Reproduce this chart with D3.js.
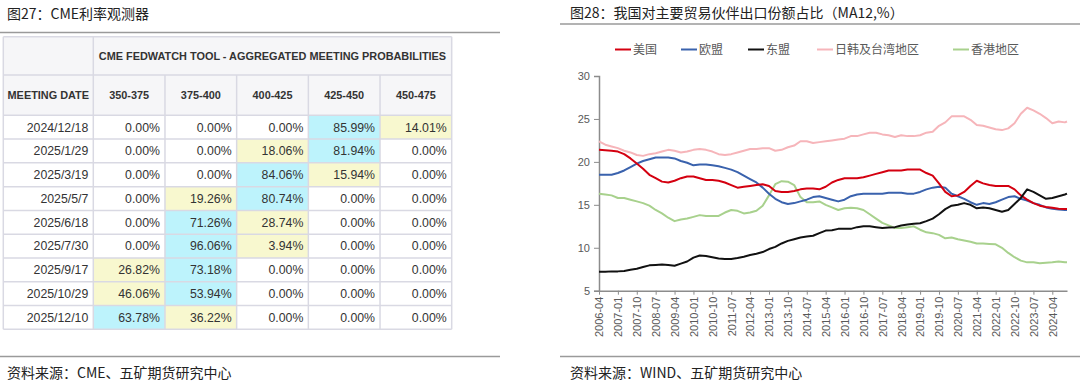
<!DOCTYPE html>
<html><head><meta charset="utf-8">
<script src="https://cdn.jsdelivr.net/npm/d3@7/dist/d3.min.js"></script>
<style>
html,body{margin:0;padding:0;background:#fff;}
svg{display:block;}
</style></head>
<body>
<svg id="c" width="1080" height="383"></svg>
<script>
// ---------- Table data (Fig 27) ----------
const meetingDates = ["2024/12/18","2025/1/29","2025/3/19","2025/5/7","2025/6/18","2025/7/30","2025/9/17","2025/10/29","2025/12/10"];
const rateBuckets = ["350-375","375-400","400-425","425-450","450-475"];
const probabilities = [
  [0,0,0,85.99,14.01],
  [0,0,18.06,81.94,0],
  [0,0,84.06,15.94,0],
  [0,19.26,80.74,0,0],
  [0,71.26,28.74,0,0],
  [0,96.06,3.94,0,0],
  [26.82,73.18,0,0,0],
  [46.06,53.94,0,0,0],
  [63.78,36.22,0,0,0]
];

// ---------- Line chart data (Fig 28) ----------
const dates = ["2006-04","2006-07","2006-10","2007-01","2007-04","2007-07","2007-10","2008-01","2008-04","2008-07","2008-10","2009-01","2009-04","2009-07","2009-10","2010-01","2010-04","2010-07","2010-10","2011-01","2011-04","2011-07","2011-10","2012-01","2012-04",
"2012-07","2012-10","2013-01","2013-04","2013-07","2013-10","2014-01","2014-04","2014-07","2014-10","2015-01","2015-04","2015-07","2015-10","2016-01","2016-04","2016-07","2016-10","2017-01","2017-04","2017-07","2017-10","2018-01","2018-04","2018-07","2018-10",
"2019-01","2019-04","2019-07","2019-10","2020-01","2020-04","2020-07","2020-10","2021-01","2021-04","2021-07","2021-10","2022-01","2022-04","2022-07","2022-10","2023-01","2023-04","2023-07","2023-10","2024-01","2024-04","2024-07","2024-10","2024-11"];
const usa = [21.4,21.35,21.3,21.2,20.9,20.4,19.8,19.2,18.5,18.1,17.7,17.6,17.8,18.1,18.3,18.3,18.1,17.9,17.9,17.8,17.6,17.3,17.0,17.1,17.2,
17.3,17.4,17.2,16.6,16.5,16.5,16.6,16.8,16.9,16.9,16.8,17.1,17.6,17.9,18.1,18.1,18.1,18.2,18.4,18.6,18.8,19.0,19.0,19.0,19.1,19.1,
19.1,18.7,18.4,17.5,16.5,16.0,16.1,16.5,17.2,17.8,17.5,17.3,17.2,17.2,17.2,16.8,16.1,15.6,15.2,14.9,14.75,14.65,14.55,14.5,14.5];
const eu = [18.5,18.5,18.5,18.7,19.0,19.4,19.8,20.1,20.3,20.5,20.5,20.5,20.4,20.1,19.9,19.6,19.7,19.7,19.6,19.5,19.3,19.1,18.8,18.4,18.0,
17.6,17.0,16.3,15.7,15.3,15.1,15.2,15.4,15.6,15.9,16.0,15.8,15.6,15.4,15.6,16.0,16.2,16.3,16.3,16.3,16.3,16.4,16.4,16.4,16.3,16.3,
16.5,16.8,17.0,17.1,17.0,16.3,16.0,15.7,15.3,15.0,15.2,15.1,15.3,15.6,15.9,16.0,15.7,15.5,15.2,15.0,14.7,14.55,14.45,14.4,14.4];
const asean = [7.2,7.2,7.25,7.25,7.3,7.45,7.55,7.75,7.95,8.0,8.05,8.0,7.9,8.15,8.4,8.85,9.1,9.05,8.9,8.75,8.7,8.7,8.8,8.95,9.15,
9.3,9.5,9.85,10.1,10.5,10.8,11.0,11.2,11.3,11.4,11.7,12.0,12.05,12.2,12.2,12.2,12.4,12.5,12.5,12.4,12.3,12.35,12.4,12.6,12.7,12.8,
12.85,13.1,13.4,13.9,14.5,14.9,15.0,15.2,15.0,14.6,14.7,14.6,14.4,14.2,14.4,15.1,15.8,16.8,16.5,16.1,15.7,15.8,16.0,16.2,16.3];
const jkt = [22.4,22.0,21.8,21.6,21.3,21.1,20.8,20.7,20.9,21.0,21.2,21.4,21.3,21.1,21.2,21.4,21.5,21.4,21.2,20.9,20.8,20.9,21.1,21.3,21.5,
21.5,21.6,21.6,21.3,21.4,21.7,21.9,22.4,22.4,22.2,22.3,22.4,22.5,22.6,22.7,23.0,23.0,23.2,23.4,23.4,23.2,23.1,22.9,23.1,23.0,23.0,
23.1,23.4,23.5,24.2,24.6,25.3,25.3,25.3,24.9,24.3,24.2,24.0,23.8,23.7,23.9,24.5,25.6,26.3,26.0,25.6,25.1,24.5,24.7,24.6,24.7];
const hk = [16.3,16.2,16.1,15.8,15.8,15.6,15.4,15.2,14.9,14.4,14.0,13.5,13.1,13.3,13.4,13.6,13.8,13.7,13.7,13.7,14.1,14.4,14.3,14.0,14.1,
14.3,14.9,16.1,17.4,17.75,17.7,17.3,15.9,15.3,15.3,15.4,15.0,14.7,14.4,14.6,14.65,14.6,14.4,13.9,13.4,12.9,12.6,12.3,12.3,12.4,12.5,
12.1,11.8,11.7,11.5,11.1,11.2,11.0,10.85,10.7,10.5,10.5,10.45,10.4,10.0,9.4,8.9,8.5,8.3,8.3,8.2,8.25,8.3,8.4,8.3,8.3];
const seriesNames = ["美国","欧盟","东盟","日韩及台湾地区","香港地区"];
const seriesValues = [usa, eu, asean, jkt, hk];
const seriesColors = ["#d40010","#3a62ad","#111111","#f6b5ba","#a8d18d"];
const xTickLabels = ["2006-04","2007-01","2007-10","2008-07","2009-04","2010-01","2010-10","2011-07","2012-04","2013-01","2013-10","2014-07","2015-04","2016-01","2016-10","2017-07","2018-04","2019-01","2019-10","2020-07","2021-04","2022-01","2022-10","2023-07","2024-04"];
const yTicks = [5,10,15,20,25,30];

const svg = d3.select("#c");
const CJK = "'Noto Sans CJK SC','Noto Sans',sans-serif";
const LAT = "'Liberation Sans',Arial,sans-serif";

// ---------- Left panel ----------
svg.append("text").attr("x",7).attr("y",19).attr("font-family",CJK).attr("font-size",14).attr("fill","#222").text("图27：CME利率观测器");
svg.append("line").attr("x1",0).attr("x2",500).attr("y1",32.5).attr("y2",32.5).attr("stroke","#9a9a9a").attr("stroke-width",1.5);
svg.append("line").attr("x1",0).attr("x2",500).attr("y1",356.5).attr("y2",356.5).attr("stroke","#9a9a9a").attr("stroke-width",1.5);
svg.append("text").attr("x",7).attr("y",378).attr("font-family",CJK).attr("font-size",14).attr("fill","#222").text("资料来源：CME、五矿期货研究中心");

const colX = d3.scaleBand().domain(d3.range(rateBuckets.length)).range([93.3,451.7]);
const tableLeft = 3.3, firstColRight = 93.3;
const rowY = d3.scaleBand().domain(d3.range(meetingDates.length)).range([115.3,329.3]);
const hdr1 = [36.7,75], hdr2 = [75,115.3];
const g = svg.append("g");
const borderC = "#d9d9e3", hdrFill = "#f6f6f8", cyan = "#bdf3fc", yellow = "#f8f8cf";

g.append("rect").attr("x",tableLeft).attr("y",hdr1[0]).attr("width",451.7-tableLeft).attr("height",hdr2[1]-hdr1[0]).attr("fill",hdrFill);
probabilities.forEach((row,i)=>{
  const sorted = row.map((v,j)=>[v,j]).filter(d=>d[0]>0).sort((a,b)=>b[0]-a[0]);
  row.forEach((v,j)=>{
    let fill = "#ffffff";
    if (sorted.length && sorted[0][1]===j) fill = cyan;
    else if (sorted.length>1 && sorted[1][1]===j) fill = yellow;
    g.append("rect").attr("x",colX(j)).attr("y",rowY(i)).attr("width",colX.bandwidth()).attr("height",rowY.bandwidth()).attr("fill",fill);
    g.append("text").attr("x",colX(j)+colX.bandwidth()-5).attr("y",rowY(i)+rowY.bandwidth()/2+4.4)
      .attr("text-anchor","end").attr("font-family",LAT).attr("font-size",12.3).attr("fill","#333").text(v.toFixed(2)+"%");
  });
  g.append("text").attr("x",firstColRight-5).attr("y",rowY(i)+rowY.bandwidth()/2+4.4)
    .attr("text-anchor","end").attr("font-family",LAT).attr("font-size",12.3).attr("fill","#333").text(meetingDates[i]);
});
g.append("text").attr("x",(93.3+451.7)/2).attr("y",(hdr1[0]+hdr1[1])/2+4).attr("text-anchor","middle")
  .attr("font-family",LAT).attr("font-weight","bold").attr("font-size",10.9).attr("fill","#333").text("CME FEDWATCH TOOL - AGGREGATED MEETING PROBABILITIES");
g.append("text").attr("x",(tableLeft+firstColRight)/2).attr("y",(hdr2[0]+hdr2[1])/2+4).attr("text-anchor","middle")
  .attr("font-family",LAT).attr("font-weight","bold").attr("font-size",10.9).attr("fill","#333").text("MEETING DATE");
rateBuckets.forEach((b,j)=>{
  g.append("text").attr("x",colX(j)+colX.bandwidth()/2).attr("y",(hdr2[0]+hdr2[1])/2+4).attr("text-anchor","middle")
    .attr("font-family",LAT).attr("font-weight","bold").attr("font-size",10.9).attr("fill","#333").text(b);
});
const hLines = [hdr1[0],hdr1[1],hdr2[1]].concat(meetingDates.map((d,i)=>rowY(i)+rowY.bandwidth()));
hLines.forEach(y=>{
  g.append("line").attr("x1",tableLeft).attr("x2",451.7).attr("y1",y).attr("y2",y).attr("stroke",borderC).attr("stroke-width",1.5);
});
const vLines = [tableLeft, firstColRight].concat(rateBuckets.map((b,j)=>colX(j)+colX.bandwidth()));
vLines.forEach((x,k)=>{
  const y1 = (k>=2 && k<vLines.length-1) ? hdr1[1] : hdr1[0];
  g.append("line").attr("x1",x).attr("x2",x).attr("y1",y1).attr("y2",329.3).attr("stroke",borderC).attr("stroke-width",1.5);
});

// ---------- Right panel ----------
svg.append("text").attr("x",570).attr("y",18).attr("font-family",CJK).attr("font-size",14).attr("fill","#222").text("图28：我国对主要贸易伙伴出口份额占比（MA12,%）");
svg.append("line").attr("x1",560).attr("x2",1080).attr("y1",24).attr("y2",24).attr("stroke","#9a9a9a").attr("stroke-width",1.5);
svg.append("line").attr("x1",560).attr("x2",1080).attr("y1",356.5).attr("y2",356.5).attr("stroke","#9a9a9a").attr("stroke-width",1.5);
svg.append("text").attr("x",570).attr("y",378).attr("font-family",CJK).attr("font-size",14).attr("fill","#222").text("资料来源：WIND、五矿期货研究中心");

const monthIdx = s => { const [yy,m] = s.split("-").map(Number); return (yy-2006)*12 + (m-4); };
const x = d3.scaleLinear().domain([0, monthIdx(dates[dates.length-1])]).range([599, 1067]);
const y = d3.scaleLinear().domain([5,30]).range([290.7, 76]);

const yAxis = svg.append("g").attr("transform","translate(599,0)")
  .call(d3.axisLeft(y).tickValues(yTicks).tickSize(5).tickPadding(4));
yAxis.select(".domain").attr("stroke","#8c8c8c").attr("stroke-width",1.5);
yAxis.selectAll(".tick line").attr("stroke","#8c8c8c");
yAxis.selectAll(".tick text").attr("font-family",LAT).attr("font-size",11).attr("fill","#595959");

const xAxis = svg.append("g").attr("transform","translate(0,290.7)")
  .call(d3.axisBottom(x).tickValues(xTickLabels.map(monthIdx)).tickFormat((d,i)=>xTickLabels[i]).tickSize(4).tickSizeOuter(0));
xAxis.select(".domain").attr("stroke","#8c8c8c").attr("stroke-width",1.5);
xAxis.selectAll(".tick line").attr("stroke","#8c8c8c");
xAxis.selectAll(".tick text").attr("font-family",LAT).attr("font-size",11).attr("fill","#595959")
  .attr("transform","rotate(-90)").attr("text-anchor","end").attr("dx","-6").attr("dy","0.35em").attr("y",0).attr("x",0);

const line = d3.line().x((d,i)=>x(monthIdx(dates[i]))).y(d=>y(d)).curve(d3.curveLinear);
const drawOrder = [3,4,1,0,2];
drawOrder.forEach(k=>{
  svg.append("path").datum(seriesValues[k]).attr("d",line).attr("fill","none")
    .attr("stroke",seriesColors[k]).attr("stroke-width",2).attr("stroke-linejoin","round");
});

const legendX = [615,681,748,817,953];
seriesNames.forEach((n,k)=>{
  svg.append("line").attr("x1",legendX[k]).attr("x2",legendX[k]+16).attr("y1",49.5).attr("y2",49.5)
    .attr("stroke",seriesColors[k]).attr("stroke-width",2);
  svg.append("text").attr("x",legendX[k]+18).attr("y",54).attr("font-family",CJK).attr("font-size",12).attr("fill","#595959").text(n);
});
</script>
</body></html>
